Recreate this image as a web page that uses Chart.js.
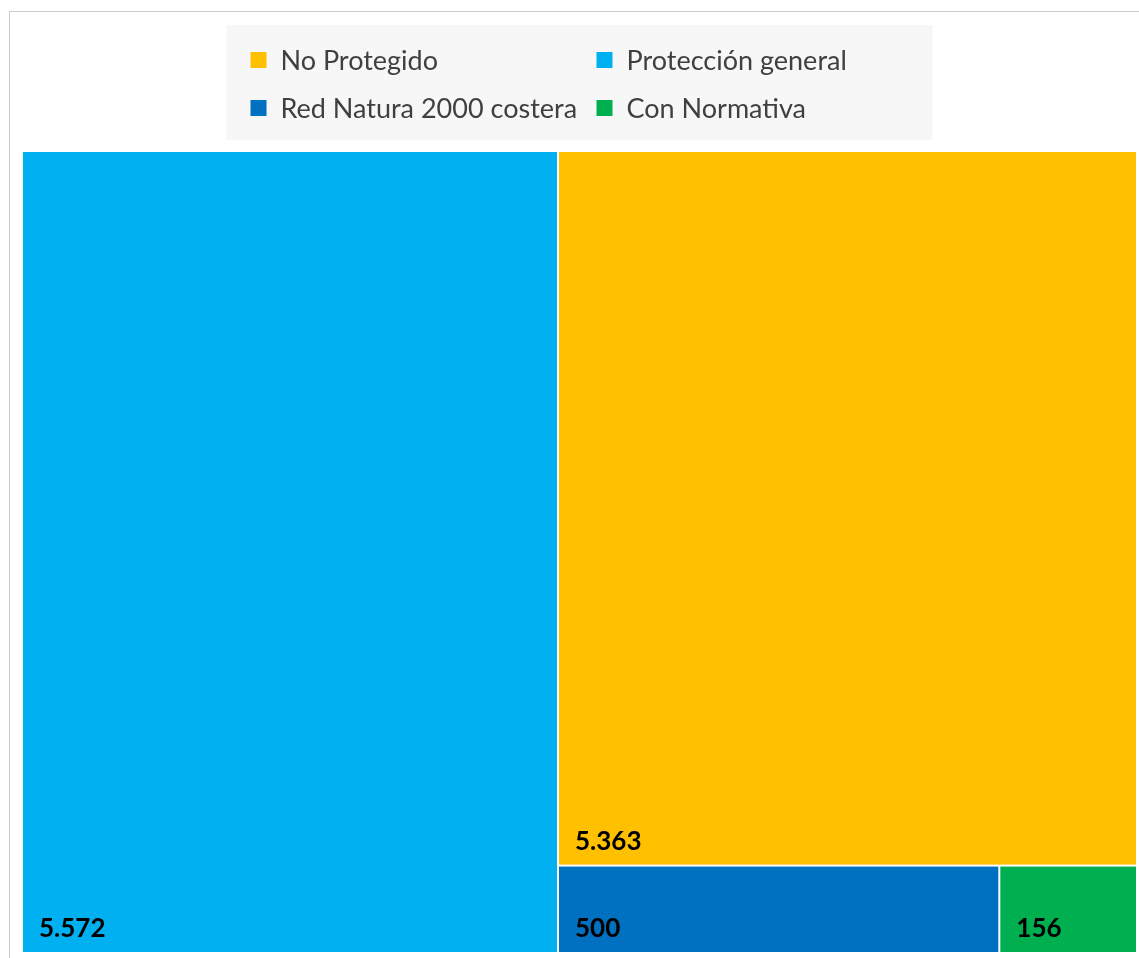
<!DOCTYPE html>
<html>
<head>
<meta charset="utf-8">
<script src="https://cdn.jsdelivr.net/npm/chart.js@4.4.0/dist/chart.umd.min.js"></script>
<style>
  html, body { margin: 0; padding: 0; background: #fff; }
  #wrap { position: relative; width: 1139px; height: 958px; }
  #frame { position: absolute; left: 9px; top: 11px; right: -2px; bottom: -2px; border: 1px solid #cccccc; }
  canvas { position: absolute; left: 0; top: 0; }
</style>
</head>
<body>
<div id="wrap">
  <div id="frame"></div>
  <canvas id="treemap" width="1139" height="958"></canvas>
</div>
<script>
// legend order and treemap values
const categories = ['No Protegido', 'Protección general', 'Red Natura 2000 costera', 'Con Normativa'];
const values = [5363, 5572, 500, 156];
const valueLabels = ['5.363', '5.572', '500', '156'];
const colors = ['#FFC000', '#00B0F0', '#0070C0', '#00B050'];

// squarified layout in the box (0,0)-(w,h), returns rects in fractions of the box
function squarify(items, w, h) {
    let rects = [];
    let total = items.reduce((s, d) => s + d.value, 0);
    let scale = (w * h) / total;
    let nodes = items.map(d => ({ idx: d.idx, area: d.value * scale }));
    let x = 0, y = 0, cw = w, ch = h;

    function worst(row, side) {
        let sum = row.reduce((s, n) => s + n.area, 0);
        let max = Math.max(...row.map(n => n.area));
        let min = Math.min(...row.map(n => n.area));
        return Math.max((side * side * max) / (sum * sum), (sum * sum) / (side * side * min));
    }

    function layRow(row) {
        let sum = row.reduce((s, n) => s + n.area, 0);
        if (cw >= ch) {
            let rw = sum / ch;
            let yy = y;
            row.forEach(n => {
                let rh = n.area / rw;
                rects[n.idx] = { x0: x / w, y0: yy / h, x1: (x + rw) / w, y1: (yy + rh) / h };
                yy += rh;
            });
            x += rw; cw -= rw;
        } else {
            let rh = sum / cw;
            let xx = x;
            row.forEach(n => {
                let rw = n.area / rh;
                rects[n.idx] = { x0: xx / w, y0: y / h, x1: (xx + rw) / w, y1: (y + rh) / h };
                xx += rw;
            });
            y += rh; ch -= rh;
        }
    }

    let row = [];
    while (nodes.length) {
        let side = Math.min(cw, ch);
        let n = nodes[0];
        if (row.length === 0 || worst(row.concat([n]), side) <= worst(row, side)) {
            row.push(n);
            nodes.shift();
        } else {
            layRow(row);
            row = [];
        }
    }
    if (row.length) layRow(row);
    return rects;
}

const treemapPlugin = {
    id: 'treemap',
    afterDatasetsDraw(chart) {
        const ctx = chart.ctx;
        const area = chart.chartArea;
        const xs = chart.scales.x, ys = chart.scales.y;
        let items = values.map((v, i) => ({ idx: i, value: v })).sort((a, b) => b.value - a.value);
        let rects = squarify(items, area.right - area.left, area.bottom - area.top);

        ctx.save();
        rects.forEach((r, i) => {
            let left = xs.getPixelForValue(r.x0);
            let right = xs.getPixelForValue(r.x1);
            let top = ys.getPixelForValue(r.y0);
            let bottom = ys.getPixelForValue(r.y1);
            ctx.fillStyle = colors[i];
            ctx.fillRect(left + 1, top + 1, right - left - 2, bottom - top - 2);

            ctx.fillStyle = '#000';
            ctx.font = 'bold 26px Lato';
            ctx.textBaseline = 'alphabetic';
            ctx.textAlign = 'left';
            ctx.fillText(valueLabels[i], left + 17, bottom - 16);
        });
        ctx.restore();
    }
};

const legendPlugin = {
    id: 'gridLegend',
    afterDraw(chart) {
        const ctx = chart.ctx;
        const area = chart.chartArea;
        const boxW = 706, boxH = 115;
        const boxX = (area.left + area.right) / 2 - boxW / 2;
        const boxY = 25;
        ctx.save();
        ctx.fillStyle = '#f7f7f7';
        ctx.fillRect(boxX, boxY, boxW, boxH);

        const colX = [boxX + 24, boxX + 370];
        const rowY = [boxY + 35, boxY + 83];
        ctx.font = '27px Lato';
        ctx.textBaseline = 'middle';
        ctx.textAlign = 'left';
        categories.forEach((name, i) => {
            let cx = colX[i % 2], cy = rowY[Math.floor(i / 2)];
            ctx.fillStyle = colors[i];
            ctx.fillRect(cx, cy - 8, 16, 16);
            ctx.fillStyle = '#404040';
            ctx.fillText(name, cx + 30, cy + 1);
        });
        ctx.restore();
    }
};

var ctx = document.getElementById('treemap').getContext('2d');

var chart = new Chart(ctx, {
    type: 'scatter',
    data: {
        datasets: categories.map((name, i) => ({
            label: name,
            backgroundColor: colors[i],
            data: []
        }))
    },
    options: {
        responsive: false,
        animation: false,
        layout: {
            padding: { left: 22, top: 151, right: 2, bottom: 5 }
        },
        scales: {
            x: { type: 'linear', min: 0, max: 1, display: false },
            y: { type: 'linear', min: 0, max: 1, reverse: true, display: false }
        },
        plugins: {
            legend: { display: false },
            tooltip: { enabled: false }
        }
    },
    plugins: [treemapPlugin, legendPlugin]
});
</script>
</body>
</html>
